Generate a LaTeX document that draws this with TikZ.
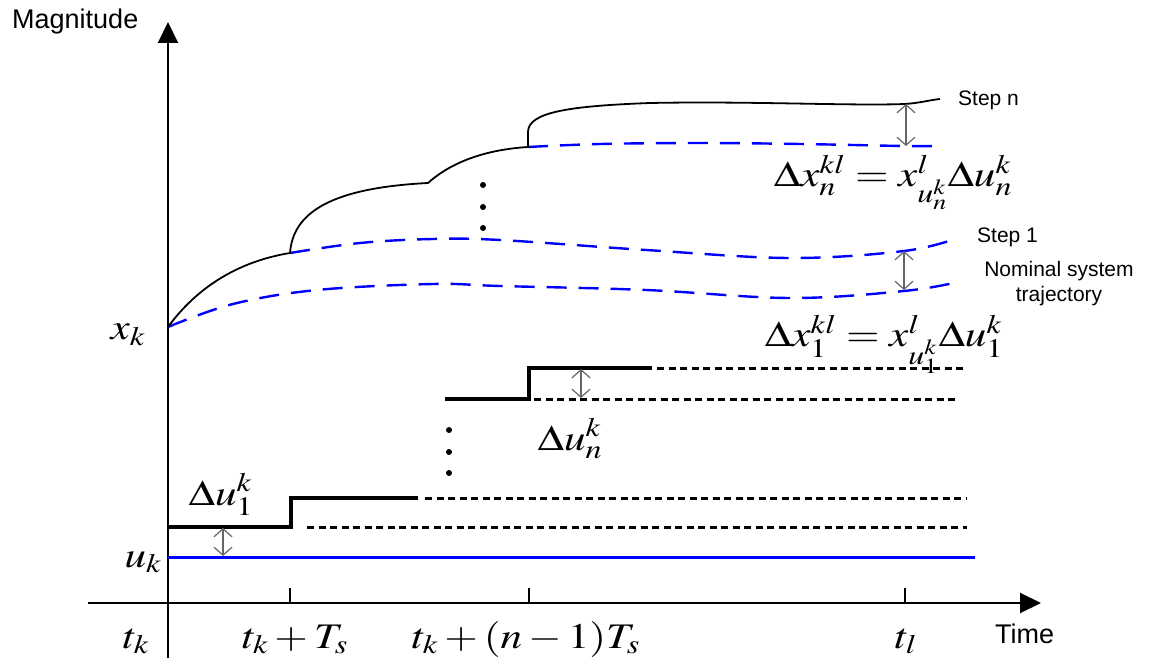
\documentclass[tikz,border=0pt]{standalone}
\usepackage{mathptmx}
\usepackage{graphicx}
\usepackage{fontspec}
\setmainfont{Liberation Sans}
\usetikzlibrary{arrows.meta}
\newcommand{\wm}[1]{\scalebox{1.2}[1]{$#1$}}
\begin{document}
\begin{tikzpicture}[x=1pt,y=-1pt,
  axis/.style={line width=2pt,-{Triangle[length=21pt,width=20pt]}},
  curve/.style={line width=1.8pt, black},
  bluedash/.style={line width=2.4pt, blue, dash pattern=on 20pt off 12pt},
  stepline/.style={line width=3.5pt, black},
  dotline/.style={line width=3pt, black, dash pattern=on 7pt off 4.5pt},
  gap/.style={line width=1.2pt, black!60, {Straight Barb[length=8pt,width=18pt]}-{Straight Barb[length=8pt,width=18pt]}},
  lbl/.style={inner sep=0pt, font=\fontsize{21}{25}\selectfont},
  big/.style={inner sep=0pt, font=\fontsize{27}{30}\selectfont},
  eq/.style={inner sep=0pt, anchor=base, font=\fontsize{36}{40}\selectfont},
  dot/.style={circle, fill=black, inner sep=0pt, minimum size=6pt}
]
\useasboundingbox (0,0) rectangle (1154,668);

% axes
\coordinate (yb) at (168,658); \coordinate (yt) at (168,22);
\coordinate (xl) at (88,603);  \coordinate (xr) at (1041,603);
\draw[axis] (yb) -- (yt);
\draw[axis] (xl) -- (xr);
\foreach \x in {290,529,905} \draw[line width=1.5pt] (\x,603) -- (\x,588);

% input signals
\draw[blue, line width=3pt] (168,557) -- (975,557);
\draw[stepline] (168,527) -- (291,527) -- (291,498) -- (418,498);
\draw[dotline] (425,498) -- (967,498);
\draw[dotline] (307,527) -- (967,527);
\draw[stepline] (445,399) -- (529,399) -- (529,368) -- (652,368);
\draw[dotline] (657,368) -- (965,368);
\draw[dotline] (534,399) -- (958,399);

% trajectories
\draw[bluedash] plot[smooth, tension=0.6] coordinates {(168,327) (233,304) (317,290) (433,284) (500,286) (646,290) (790,298) (904,291) (958,282)};
\draw[bluedash] plot[smooth, tension=0.6] coordinates {(290,253) (360,243) (433,239) (500,240) (646,250) (790,258) (904,251) (958,238)};
\draw[bluedash] plot[smooth, tension=0.6] coordinates {(528,147) (600,144) (700,143) (800,144) (904,146) (940,146)};
\draw[curve] (168,327) .. controls (195,290) and (235,262) .. (290,253)
  .. controls (293,213) and (330,188) .. (428,183)
  .. controls (448,165) and (480,150) .. (528,147)
  -- (528,132) .. controls (528,112) and (570,106) .. (650,103)
  .. controls (750,101) and (850,106) .. (905,104)
  .. controls (920,103) and (930,100) .. (940,99);

% dots
\node[dot] (a1) at (483,185) {};
\node[dot] (a2) at (483,207) {};
\node[dot] (a3) at (483,228) {};
\node[dot] (b1) at (449,430) {};
\node[dot] (b2) at (449,452) {};
\node[dot] (b3) at (449,473) {};

% difference arrows
\coordinate (gn1) at (906,104); \coordinate (gn2) at (906,146);
\coordinate (g11) at (904,251); \coordinate (g12) at (904,290);
\coordinate (un1) at (581,369); \coordinate (un2) at (581,398);
\coordinate (u11) at (223,528); \coordinate (u12) at (223,556);
\draw[gap] (gn1) -- (gn2);
\draw[gap] (g11) -- (g12);
\draw[gap] (un1) -- (un2);
\draw[gap] (u11) -- (u12);

% text labels
\node[big, anchor=west] (mag) at (12,22) {Magnitude};
\node[big, anchor=west] (time) at (995,634) {Time};
\node[lbl, anchor=west] (stepn) at (958,100) {Step n};
\node[lbl, anchor=west] (step1) at (977,237) {Step 1};
\node[lbl, align=center] (nom) at (1059,284) {Nominal system\\trajectory};

% math labels
\node[eq] (eqn) at (893,187) {\wm{\Delta x_n^{kl} = x^{l}_{u_n^k}\Delta u_n^k}};
\node[eq] (eq1) at (884,347) {\wm{\Delta x_1^{kl} = x^{l}_{u_1^k}\Delta u_1^k}};
\node[eq] (xk) at (128,340) {\wm{x_k}};
\node[eq] (uk) at (143,567) {\wm{u_k}};
\node[eq] (du1) at (221,505) {\wm{\Delta u_1^k}};
\node[eq] (dun) at (570,450) {\wm{\Delta u_n^k}};
\node[eq] (tk) at (136,648) {\wm{t_k}};
\node[eq] (t1) at (295,648) {\wm{t_k + T_s}};
\node[eq] (tn) at (526,648) {\wm{t_k + (n-1)T_s}};
\node[eq] (tl) at (906,648) {\wm{t_l}};
\end{tikzpicture}
\end{document}
